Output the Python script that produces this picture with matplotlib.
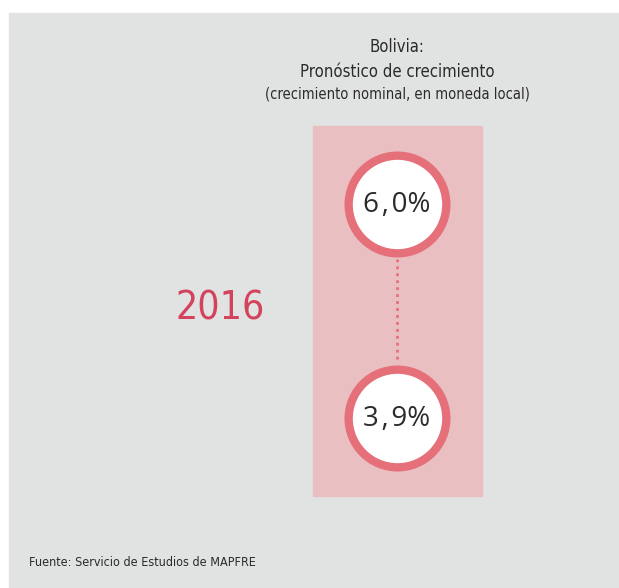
"""Bolivia: growth forecast bubble chart."""

import matplotlib
matplotlib.use('Agg')
import matplotlib.pyplot as plt
from matplotlib.patches import Rectangle

# Data
country = 'Bolivia'
years = ['2016']
growth = [6.0, 3.9]          # top circle, bottom circle (%)
slot_y = [204, 418]          # vertical slot of each circle in the panel

bg = '#e1e2e2'
band = '#eabfc2'
ring = '#e5707a'
year_col = '#d3435c'
txt = '#2b2b2b'

plt.rcParams['font.family'] = ['DejaVu Sans']
plt.rcParams['font.stretch'] = 'condensed'

W, H = 619, 588
fig = plt.figure(figsize=(W / 100, H / 100), dpi=100)
fig.patch.set_facecolor('white')
ax = fig.add_axes([0, 0, 1, 1])
ax.set_xlim(0, W)
ax.set_ylim(H, 0)
ax.axis('off')

# panel background
ax.add_patch(Rectangle((9, 13), W - 9, H - 13, color=bg, zorder=0))

# titles
ax.text(397, 47, f'{country}:', ha='center', va='center', fontsize=12, color=txt)
ax.text(397, 72, 'Pronóstico de crecimiento', ha='center', va='center',
        fontsize=12, color=txt)
ax.text(397, 94, '(crecimiento nominal, en moneda local)', ha='center',
        va='center', fontsize=10.5, color=txt)

# pink band
cx = 397
ax.add_patch(Rectangle((313, 126), 169, 370, color=band, zorder=1))

# dotted connector
ax.plot([cx, cx], [slot_y[0] + 55, slot_y[1] - 55], color=ring, lw=2,
        linestyle=(0, (1, 1.5)), zorder=2)

# circles
r_pt = 53 * 72 / 100
lw = 6
ax.scatter([cx] * len(growth), slot_y, s=(2 * r_pt - lw) ** 2,
           facecolor='white', edgecolor=ring, linewidths=lw, zorder=3)
for v, y in zip(growth, slot_y):
    ax.text(cx, y + 1, f'{v:.1f}%'.replace('.', '\u200a,\u200a'), ha='center',
            va='center', fontsize=20, color=txt, zorder=4,
            family=['Open Sans', 'DejaVu Sans'], stretch='normal')

# year label
ax.text(220, 309, years[0], ha='center', va='center', fontsize=28,
        color=year_col)

# source
ax.text(29, 563, 'Fuente: Servicio de Estudios de MAPFRE', ha='left',
        va='center', fontsize=9, color=txt)

fig.savefig('out.png', dpi=100, facecolor='white')
